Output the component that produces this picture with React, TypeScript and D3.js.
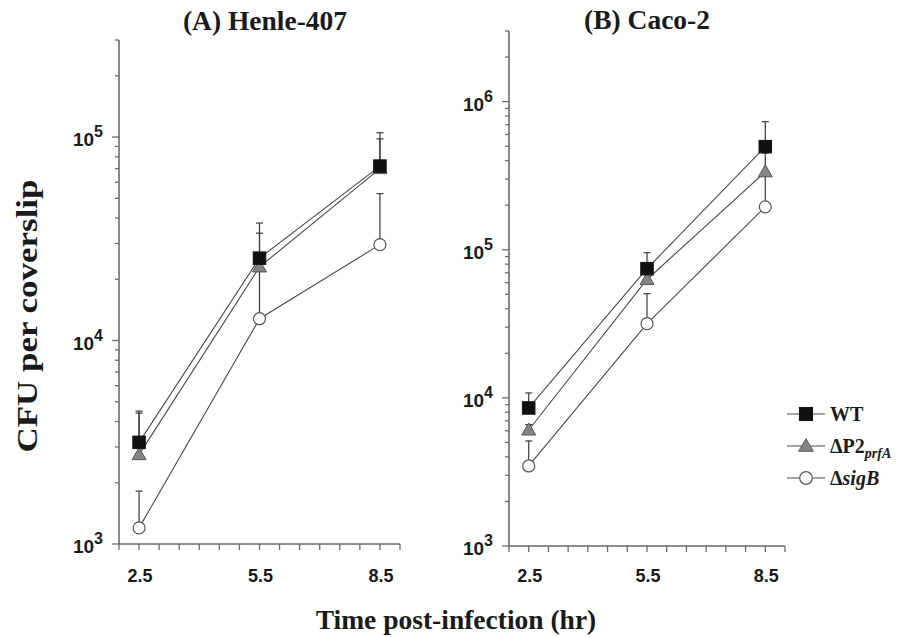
import React, { useRef, useEffect } from 'react';
import * as d3 from 'd3';

// time points (hr)
const hours = [2.5, 5.5, 8.5];
const xTickLabels = [2.5, 5.5, 8.5];

// (A) Henle-407: means and top of error bars
const henleWT = [3160, 25400, 72000];
const henleWTTop = [4500, 37800, 105000];
const henleP2 = [2750, 23000, 70000];
const henleP2Top = [4400, 33700, 98000];
const henleSigB = [1200, 12800, 29600];
const henleSigBTop = [1820, 24000, 52700];

// (B) Caco-2
const cacoWT = [8550, 74500, 497000];
const cacoWTTop = [10800, 95600, 733000];
const cacoP2 = [6070, 63000, 336000];
const cacoP2Top = [6600, 80000, 450000];
const cacoSigB = [3470, 31700, 195000];
const cacoSigBTop = [5120, 50500, 330000];

const seriesNames = ['WT', 'P2', 'sigB'];

const serif = "'Liberation Serif', 'Times New Roman', serif";
const sans = "'Liberation Sans', Arial, sans-serif";

const styles: Record<string, { fill: string; stroke: string }> = {
  WT: { fill: '#111', stroke: '#111' },
  P2: { fill: '#858585', stroke: '#555' },
  sigB: { fill: '#fff', stroke: '#555' },
};

const drawMarker = (g: any, name: string, x: number, y: number, scale = 1) => {
  const st = styles[name];
  if (name === 'WT') {
    const s = 12.5 * scale;
    g.append('rect').attr('x', x - s / 2).attr('y', y - s / 2).attr('width', s).attr('height', s)
      .attr('fill', st.fill).attr('stroke', st.stroke).attr('stroke-width', 1);
  } else if (name === 'P2') {
    const h = 7 * scale;
    g.append('path')
      .attr('d', `M${x},${y - h} L${x + h},${y + 5 * scale} L${x - h},${y + 5 * scale} Z`)
      .attr('fill', st.fill).attr('stroke', st.stroke).attr('stroke-width', 1);
  } else {
    g.append('circle').attr('cx', x).attr('cy', y).attr('r', 6 * scale)
      .attr('fill', st.fill).attr('stroke', st.stroke).attr('stroke-width', 1.2);
  }
};

const App = () => {
  const svgRef = useRef<SVGSVGElement>(null);

  useEffect(() => {
    const svg = d3.select(svgRef.current);
    svg.selectAll('*').remove();

    const panels = [
      {
        title: '(A) Henle-407', titleX: 265, titleY: 30,
        xRange: [119, 400], yDomain: [1e3, 3e5], yRange: [544, 40],
        data: {
          WT: [henleWT, henleWTTop], P2: [henleP2, henleP2Top], sigB: [henleSigB, henleSigBTop],
        } as Record<string, number[][]>,
      },
      {
        title: '(B) Caco-2', titleX: 647, titleY: 29,
        xRange: [509, 785], yDomain: [1e3, 3e6], yRange: [546, 31],
        data: {
          WT: [cacoWT, cacoWTTop], P2: [cacoP2, cacoP2Top], sigB: [cacoSigB, cacoSigBTop],
        } as Record<string, number[][]>,
      },
    ];

    panels.forEach(p => {
      const x = d3.scaleLinear().domain([2, 9]).range(p.xRange);
      const y = d3.scaleLog().domain(p.yDomain).range(p.yRange);
      const g = svg.append('g');
      const axisColor = '#6b6b6b';
      const y0 = p.yRange[0];

      // axes lines
      g.append('line').attr('x1', p.xRange[0]).attr('x2', p.xRange[0])
        .attr('y1', p.yRange[1]).attr('y2', y0)
        .attr('stroke', axisColor).attr('stroke-width', 1.6);
      g.append('line').attr('x1', p.xRange[0]).attr('x2', p.xRange[1])
        .attr('y1', y0).attr('y2', y0)
        .attr('stroke', axisColor).attr('stroke-width', 1.6);

      // x ticks every 0.5 hr
      d3.range(2, 9.001, 0.5).forEach(t => {
        g.append('line').attr('x1', x(t)).attr('x2', x(t)).attr('y1', y0).attr('y2', y0 + 6)
          .attr('stroke', axisColor).attr('stroke-width', 1.3);
      });
      xTickLabels.forEach(t => {
        g.append('text').attr('x', x(t) + 1).attr('y', 582)
          .attr('text-anchor', 'middle').attr('font-family', sans).attr('font-weight', 'bold')
          .attr('font-size', 18).attr('fill', '#1a1a1a').text(t.toFixed(1));
      });

      // y ticks: decades and minor ticks
      const [lo, hi] = p.yDomain;
      for (let e = Math.log10(lo); e <= Math.log10(hi); e++) {
        for (let m = 1; m <= 9; m++) {
          const v = m * Math.pow(10, e);
          if (v > hi + 1e-6) break;
          const major = m === 1;
          g.append('line').attr('x1', p.xRange[0]).attr('x2', p.xRange[0] - (major ? 7 : 4))
            .attr('y1', y(v)).attr('y2', y(v))
            .attr('stroke', axisColor).attr('stroke-width', 1.3);
          if (major) {
            const t = g.append('text').attr('x', p.xRange[0] - 16).attr('y', y(v) + 9)
              .attr('text-anchor', 'end').attr('font-family', sans).attr('font-weight', 'bold')
              .attr('font-size', 19).attr('fill', '#1a1a1a');
            t.append('tspan').text('10');
            t.append('tspan').attr('dy', -9).attr('font-size', 16).text(String(e));
          }
        }
      }

      // series lines
      const line = d3.line<number>().x((_, i) => x(hours[i])).y(d => y(d));
      ['sigB', 'P2', 'WT'].forEach(name => {
        g.append('path').datum(p.data[name][0]).attr('d', line)
          .attr('fill', 'none').attr('stroke', '#4a4a4a').attr('stroke-width', 1.1);
      });

      // error bars (upper only)
      ['sigB', 'P2', 'WT'].forEach(name => {
        const [vals, tops] = p.data[name];
        vals.forEach((v, i) => {
          const cx = x(hours[i]);
          g.append('line').attr('x1', cx).attr('x2', cx).attr('y1', y(v)).attr('y2', y(tops[i]))
            .attr('stroke', '#3a3a3a').attr('stroke-width', 1.2);
          g.append('line').attr('x1', cx - 3.5).attr('x2', cx + 3.5)
            .attr('y1', y(tops[i])).attr('y2', y(tops[i]))
            .attr('stroke', '#3a3a3a').attr('stroke-width', 1.2);
        });
      });

      // markers
      ['sigB', 'P2', 'WT'].forEach(name => {
        p.data[name][0].forEach((v, i) => drawMarker(g, name, x(hours[i]), y(v)));
      });

      // panel title
      g.append('text').attr('x', p.titleX).attr('y', p.titleY).attr('text-anchor', 'middle')
        .attr('font-family', serif).attr('font-weight', 'bold').attr('font-size', 27.5)
        .attr('fill', '#1a1a1a').text(p.title);
    });

    // y-axis label
    svg.append('text').attr('transform', 'translate(37,316) rotate(-90)')
      .attr('text-anchor', 'middle').attr('font-family', serif).attr('font-weight', 'bold')
      .attr('font-size', 30).attr('textLength', 273).attr('lengthAdjust', 'spacingAndGlyphs')
      .attr('fill', '#1a1a1a').text('CFU per coverslip');

    // x-axis label
    svg.append('text').attr('x', 456).attr('y', 629).attr('text-anchor', 'middle')
      .attr('font-family', serif).attr('font-weight', 'bold').attr('font-size', 27.5)
      .attr('fill', '#1a1a1a').text('Time post-infection (hr)');

    // legend
    const legendY = [414, 446, 478];
    seriesNames.forEach((name, i) => {
      const ly = legendY[i];
      const lg = svg.append('g');
      lg.append('line').attr('x1', 787).attr('x2', 825).attr('y1', ly).attr('y2', ly)
        .attr('stroke', '#4a4a4a').attr('stroke-width', 1.2);
      drawMarker(lg, name, 806, ly, 1.05);
      const t = lg.append('text').attr('x', 830).attr('y', ly + 7)
        .attr('font-family', serif).attr('font-weight', 'bold').attr('font-size', 20)
        .attr('fill', '#1a1a1a');
      if (name === 'WT') {
        t.text('WT');
      } else if (name === 'P2') {
        t.append('tspan').text('ΔP2');
        t.append('tspan').attr('dy', 5).attr('font-size', 14).attr('font-style', 'italic').text('prfA');
      } else {
        t.append('tspan').text('Δ');
        t.append('tspan').attr('font-style', 'italic').text('sigB');
      }
    });
  }, []);

  return (
    <svg ref={svgRef} width={897} height={637}
      style={{ position: 'absolute', left: 0, top: 0, background: '#fff', display: 'block' }} />
  );
};

export default App;
